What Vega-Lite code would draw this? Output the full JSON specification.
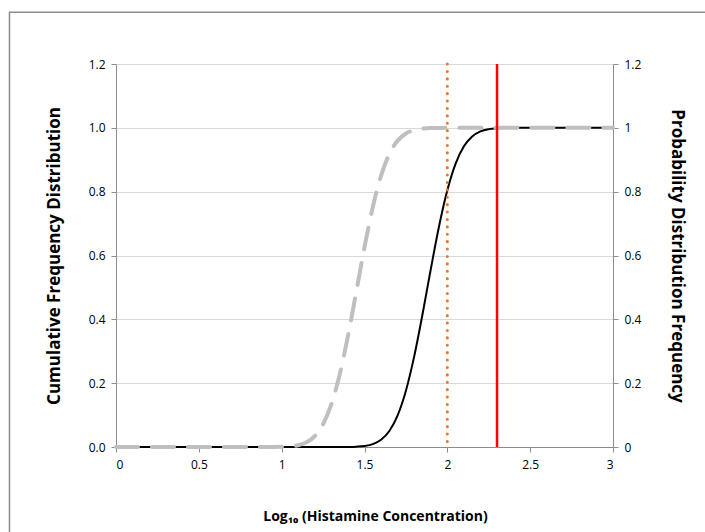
{
  "$schema": "https://vega.github.io/schema/vega-lite/v6.json",
  "width": 497,
  "height": 383,
  "autosize": {"type": "none"},
  "padding": {"left": 116, "top": 64, "right": 92, "bottom": 85},
  "background": "white",
  "config": {
    "view": {"stroke": null},
    "font": "Open Sans",
    "axis": {
      "domainColor": "#8c8c8c",
      "tickColor": "#8c8c8c",
      "gridColor": "#d9d9d9",
      "labelFont": "Open Sans",
      "labelFontSize": 12,
      "labelColor": "#000000",
      "titleFont": "Open Sans",
      "titleFontSize": 17,
      "titleFontWeight": "bold",
      "titleColor": "#000000",
      "tickSize": 5
    }
  },
  "datasets": {
    "cumulative": [
      {"x": 0, "y": 0}, {"x": 1.0, "y": 0}, {"x": 1.35, "y": 0}, {"x": 1.40, "y": 0.0003},
      {"x": 1.45, "y": 0.0011}, {"x": 1.50, "y": 0.0033}, {"x": 1.55, "y": 0.0092}, {"x": 1.60, "y": 0.0228},
      {"x": 1.65, "y": 0.0502}, {"x": 1.70, "y": 0.0993}, {"x": 1.75, "y": 0.1765}, {"x": 1.80, "y": 0.2839},
      {"x": 1.85, "y": 0.4152}, {"x": 1.90, "y": 0.5568}, {"x": 1.95, "y": 0.6915}, {"x": 2.00, "y": 0.8043},
      {"x": 2.05, "y": 0.8877}, {"x": 2.10, "y": 0.9420}, {"x": 2.15, "y": 0.9731}, {"x": 2.20, "y": 0.9889},
      {"x": 2.25, "y": 0.9959}, {"x": 2.30, "y": 0.9987}, {"x": 2.35, "y": 0.9996}, {"x": 2.40, "y": 0.9999},
      {"x": 2.5, "y": 1.0}, {"x": 3.0, "y": 1.0}
    ],
    "probability": [
      {"x": 0, "y": 0}, {"x": 0.95, "y": 0.0001}, {"x": 1.00, "y": 0.0006}, {"x": 1.05, "y": 0.0019},
      {"x": 1.10, "y": 0.0056}, {"x": 1.15, "y": 0.0147}, {"x": 1.20, "y": 0.0343}, {"x": 1.25, "y": 0.0716},
      {"x": 1.30, "y": 0.1341}, {"x": 1.35, "y": 0.2266}, {"x": 1.40, "y": 0.3472}, {"x": 1.45, "y": 0.4857},
      {"x": 1.50, "y": 0.6260}, {"x": 1.55, "y": 0.7514}, {"x": 1.60, "y": 0.8499}, {"x": 1.65, "y": 0.9182},
      {"x": 1.70, "y": 0.9599}, {"x": 1.75, "y": 0.9824}, {"x": 1.80, "y": 0.9931}, {"x": 1.85, "y": 0.9976},
      {"x": 1.90, "y": 0.9993}, {"x": 1.95, "y": 0.9998}, {"x": 2.05, "y": 1.0}, {"x": 3.0, "y": 1.0}
    ],
    "markers": [
      {"x": 2.0, "name": "orange"},
      {"x": 2.3, "name": "red"}
    ],
    "frame": [
      {"x1": -0.643, "x2": 3.7, "y1": 1.362, "y2": -0.35}
    ]
  },
  "resolve": {"scale": {"y": "shared", "x": "shared"}, "axis": {"y": "independent", "x": "independent"}},
  "layer": [
    {
      "data": {"name": "cumulative"},
      "mark": {"type": "line", "color": "#000000", "strokeWidth": 2, "interpolate": "monotone"},
      "encoding": {
        "x": {
          "field": "x", "type": "quantitative",
          "scale": {"domain": [0, 3], "nice": false, "zero": false},
          "axis": {
            "values": [0, 0.5, 1, 1.5, 2, 2.5, 3],
            "format": "~g",
            "grid": false,
            "labelPadding": 7,
            "title": "Log₁₀ (Histamine Concentration)",
            "titleFontSize": 14,
            "titlePadding": 39,
            "titleX": 259
          }
        },
        "y": {
          "field": "y", "type": "quantitative",
          "scale": {"domain": [0, 1.2], "nice": false, "zero": false},
          "axis": {
            "orient": "left",
            "values": [0, 0.2, 0.4, 0.6, 0.8, 1.0, 1.2],
            "format": ".1f",
            "grid": true,
            "labelPadding": 6,
            "title": "Cumulative Frequency  Distribution",
            "titlePadding": 25
          }
        }
      }
    },
    {
      "data": {"name": "probability"},
      "mark": {"type": "line", "color": "#bfbfbf", "strokeWidth": 4, "strokeDash": [22, 14], "strokeCap": "round", "interpolate": "monotone"},
      "encoding": {
        "x": {"field": "x", "type": "quantitative", "scale": {"domain": [0, 3], "nice": false, "zero": false}, "axis": null},
        "y": {
          "field": "y", "type": "quantitative",
          "scale": {"domain": [0, 1.2], "nice": false, "zero": false},
          "axis": {
            "orient": "right",
            "values": [0, 0.2, 0.4, 0.6, 0.8, 1.0, 1.2],
            "format": "~g",
            "grid": false,
            "labelPadding": 6,
            "title": "Probability Distribution Frequency",
            "titlePadding": 27
          }
        }
      }
    },
    {
      "data": {"name": "markers"},
      "transform": [{"filter": "datum.name === 'orange'"}],
      "mark": {"type": "rule", "color": "#f47521", "strokeWidth": 3, "strokeDash": [0.1, 7.3], "strokeCap": "round"},
      "encoding": {
        "x": {"field": "x", "type": "quantitative", "scale": {"domain": [0, 3], "nice": false, "zero": false}, "axis": null}
      }
    },
    {
      "data": {"name": "markers"},
      "transform": [{"filter": "datum.name === 'red'"}],
      "mark": {"type": "rule", "color": "#ff0000", "strokeWidth": 2.5},
      "encoding": {
        "x": {"field": "x", "type": "quantitative", "scale": {"domain": [0, 3], "nice": false, "zero": false}, "axis": null}
      }
    },
    {
      "data": {"name": "frame"},
      "mark": {"type": "rect", "filled": false, "stroke": "#8c8c8c", "strokeWidth": 1.5, "clip": false},
      "encoding": {
        "x": {"field": "x1", "type": "quantitative", "scale": {"domain": [0, 3], "nice": false, "zero": false}, "axis": null},
        "x2": {"field": "x2"},
        "y": {"field": "y1", "type": "quantitative", "scale": {"domain": [0, 1.2], "nice": false, "zero": false}, "axis": null},
        "y2": {"field": "y2"}
      }
    }
  ]
}
